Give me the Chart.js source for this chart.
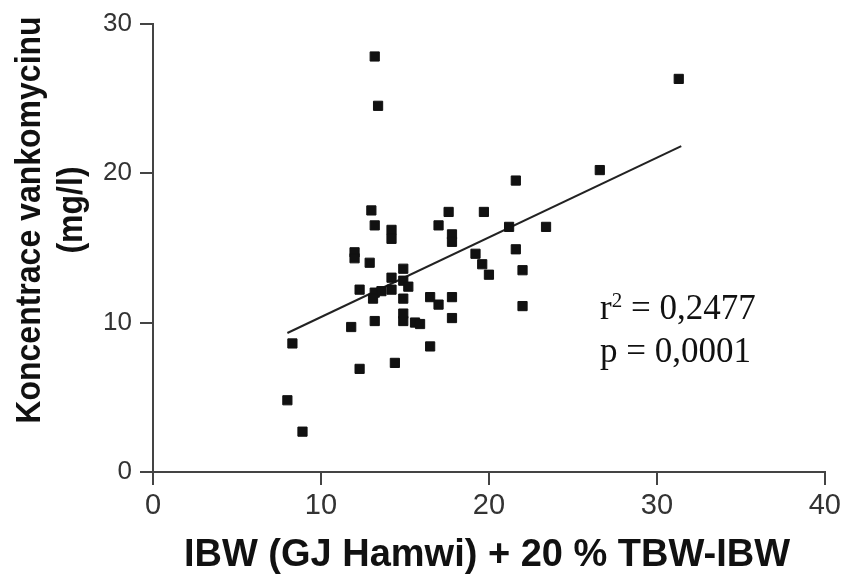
<!DOCTYPE html>
<html>
<head>
<meta charset="utf-8">
<script src="https://cdn.jsdelivr.net/npm/chart.js@4.4.0/dist/chart.umd.min.js"></script>
<style>
  html, body { margin: 0; padding: 0; background: #fff; }
  canvas { display: block; }
</style>
</head>
<body>
<canvas id="chart" width="845" height="586"></canvas>
<script>
// IBW (GJ Hamwi) + 20 % TBW-IBW vs. vancomycin concentration
const bodyWeight = [
  13.2, 13.4, 13.0, 13.2, 14.2, 14.2, 12.0, 12.0, 12.9, 14.9,
  14.2, 14.9, 15.2, 12.3, 13.2, 13.6, 13.1, 14.2, 14.9, 16.5,
  17.0, 17.8, 17.8, 11.8, 13.2, 14.9, 14.9, 15.6, 15.9, 8.3,
  16.5, 14.4, 12.3, 8.0, 8.9, 26.6, 21.6, 17.6, 19.7, 17.0,
  17.8, 17.8, 21.2, 23.4, 19.2, 19.6, 20.0, 21.6, 22.0, 22.0,
  31.3
];
const vancoLevel = [
  27.8, 24.5, 17.5, 16.5, 16.2, 15.6, 14.7, 14.3, 14.0, 13.6,
  13.0, 12.8, 12.4, 12.2, 12.0, 12.1, 11.6, 12.2, 11.6, 11.7,
  11.2, 11.7, 10.3, 9.7, 10.1, 10.6, 10.1, 10.0, 9.9, 8.6,
  8.4, 7.3, 6.9, 4.8, 2.7, 20.2, 19.5, 17.4, 17.4, 16.5,
  15.9, 15.4, 16.4, 16.4, 14.6, 13.9, 13.2, 14.9, 13.5, 11.1,
  26.3
];
// regression line end points
const fitX = [8.0, 31.45];
const fitY = [9.3, 21.8];

const xTickValues = [0, 10, 20, 30, 40];
const yTickValues = [0, 10, 20, 30];

const xTitle = 'IBW (GJ Hamwi) + 20 % TBW-IBW';
const yTitle = ['Koncentrace vankomycinu', '(mg/l)'];
const r2Text = '0,2477';
const pText = '0,0001';

const points = bodyWeight.map((x, i) => ({ x, y: vancoLevel[i] }));
const fitLine = fitX.map((x, i) => ({ x, y: fitY[i] }));

const textPlugin = {
  id: 'textPlugin',
  afterDraw(chart) {
    const ctx = chart.ctx;
    ctx.save();
    ctx.fillStyle = '#111';

    // x axis title
    ctx.font = 'bold 38px "Liberation Sans", Arial, sans-serif';
    ctx.textAlign = 'center';
    ctx.textBaseline = 'middle';
    ctx.fillText(xTitle, 487, 556);

    // y axis title, two rotated lines
    const yLines = [[30, 220], [72, 210]];
    yTitle.forEach((line, i) => {
      ctx.save();
      ctx.translate(yLines[i][0], yLines[i][1]);
      ctx.rotate(-Math.PI / 2);
      ctx.scale(1, 1.12);
      ctx.font = 'bold 32px "Liberation Sans", Arial, sans-serif';
      ctx.fillText(line, 0, 0);
      ctx.restore();
    });

    // statistics
    ctx.textAlign = 'left';
    ctx.textBaseline = 'alphabetic';
    const serif = '"Liberation Serif", "Times New Roman", serif';
    ctx.font = '35px ' + serif;
    let x = 600;
    ctx.fillText('r', x, 319);
    x += ctx.measureText('r').width;
    ctx.font = '21px ' + serif;
    ctx.fillText('2', x, 307);
    x += ctx.measureText('2').width;
    ctx.font = '35px ' + serif;
    ctx.fillText(' = ' + r2Text, x, 319);
    ctx.fillText('p = ' + pText, 600, 362);
    ctx.restore();
  }
};

const axisColor = '#444';

new Chart(document.getElementById('chart'), {
  type: 'scatter',
  data: {
    datasets: [
      {
        data: points,
        pointStyle: 'rect',
        pointRadius: 6.5,
        pointBackgroundColor: '#111',
        pointBorderColor: '#111',
        pointBorderWidth: 1
      },
      {
        data: fitLine,
        showLine: true,
        pointRadius: 0,
        borderColor: '#222',
        borderWidth: 2
      }
    ]
  },
  options: {
    responsive: false,
    animation: false,
    layout: { padding: { top: 23, right: 20, left: 0, bottom: 0 } },
    plugins: {
      legend: { display: false },
      tooltip: { enabled: false }
    },
    scales: {
      x: {
        type: 'linear',
        min: 0,
        max: 40,
        afterBuildTicks: s => { s.ticks = xTickValues.map(v => ({ value: v })); },
        afterFit: s => { s.height = 114; },
        border: { display: true, color: axisColor, width: 2 },
        grid: { drawOnChartArea: false, drawTicks: true, tickLength: 13, color: axisColor, lineWidth: 2 },
        ticks: {
          color: '#333',
          padding: 4,
          font: { family: '"Liberation Sans", Arial, sans-serif', size: 29 }
        }
      },
      y: {
        type: 'linear',
        min: 0,
        max: 30,
        afterBuildTicks: s => { s.ticks = yTickValues.map(v => ({ value: v })); },
        afterFit: s => { s.width = 153; },
        border: { display: true, color: axisColor, width: 2 },
        grid: { drawOnChartArea: false, drawTicks: true, tickLength: 13, color: axisColor, lineWidth: 2 },
        ticks: {
          color: '#333',
          padding: 8,
          font: { family: '"Liberation Sans", Arial, sans-serif', size: 26 }
        }
      }
    }
  },
  plugins: [textPlugin]
});
</script>
</body>
</html>
